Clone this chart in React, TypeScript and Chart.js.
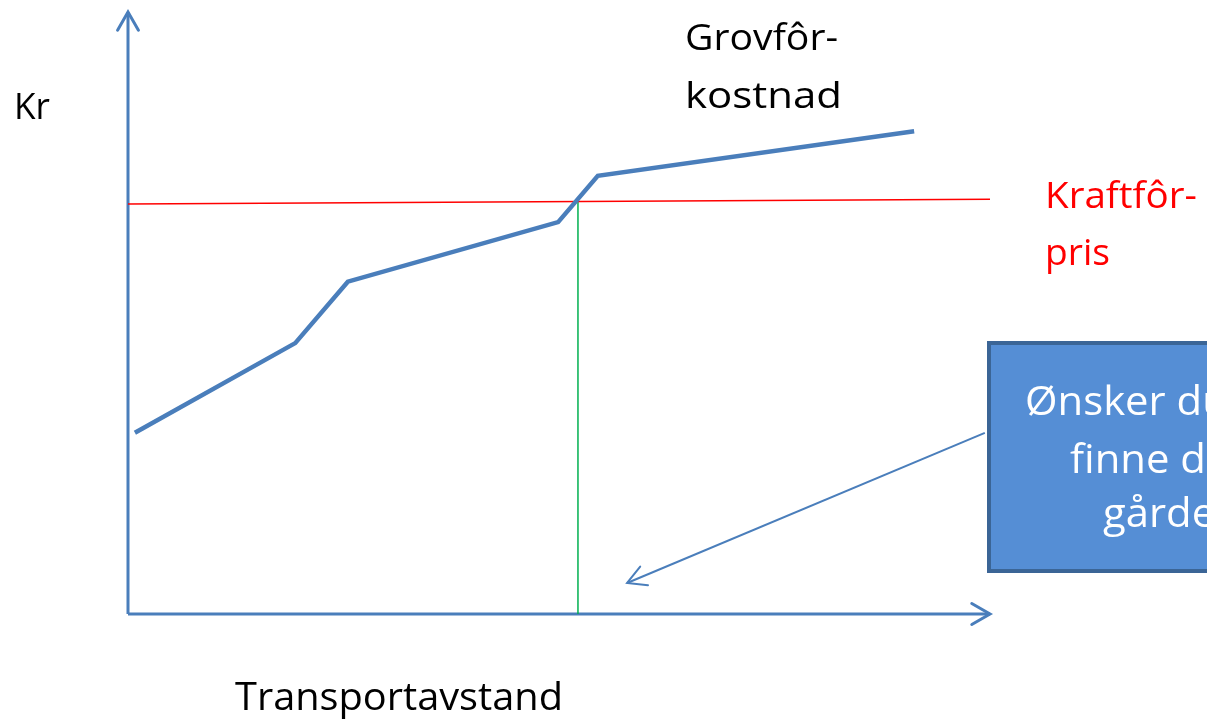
import React, { useEffect, useRef } from "react";
import { Chart, registerables } from "chart.js";
Chart.register(...registerables);

// Data (abstract units: distance 0..100, kroner 0..100)
const distance = [0.8, 19.4, 25.5, 49.9, 54.5, 91.2];
const grovforCost = [30.1, 45.0, 55.2, 65.1, 72.8, 80.2];
const kraftforX = [0, 100];
const kraftforPrice = [68.1, 68.9];
const breakEvenX = [52.2, 52.2];
const breakEvenY = [0, 68.6];
const calloutX = [99.4, 57.9];
const calloutY = [30.1, 5.15];
const axisMaxX = 100;
const axisMaxY = 100;

const yLabel = "Kr";
const xLabel = "Transportavstand";
const grovLabel = ["Grovfôr-", "kostnad"];
const kraftLabel = ["Kraftfôr-", "pris"];
const boxLabel = ["Ønsker du å", "finne den", "gården?"];

const BLUE = "#4a7ebb";
const FONT = '"Open Sans", "Noto Sans", sans-serif';

function fitText(ctx: CanvasRenderingContext2D, text: string, x: number, baseline: number, size: number, color: string, width?: number, sx?: number) {
  ctx.save();
  ctx.font = `${size}px ${FONT}`;
  ctx.fillStyle = color;
  ctx.textBaseline = "alphabetic";
  ctx.textAlign = "left";
  const w = ctx.measureText(text).width;
  const s = width ? width / w : sx || 1;
  ctx.translate(x, baseline);
  ctx.scale(s, 1);
  ctx.fillText(text, 0, 0);
  ctx.restore();
  return s;
}

function arrowHead(ctx: CanvasRenderingContext2D, tx: number, ty: number, fx: number, fy: number, len: number, spread: number) {
  const a = Math.atan2(ty - fy, tx - fx);
  ctx.beginPath();
  ctx.moveTo(tx - len * Math.cos(a - spread), ty - len * Math.sin(a - spread));
  ctx.lineTo(tx, ty);
  ctx.lineTo(tx - len * Math.cos(a + spread), ty - len * Math.sin(a + spread));
  ctx.stroke();
}

const decorPlugin = {
  id: "decor",
  beforeDatasetsDraw(chart: any) {
    const ctx: CanvasRenderingContext2D = chart.ctx;
    const xs = chart.scales.x;
    const ys = chart.scales.y;
    const x0 = xs.getPixelForValue(0);
    const y0 = ys.getPixelForValue(0);
    const xEnd = xs.getPixelForValue(axisMaxX);
    const yEnd = ys.getPixelForValue(axisMaxY);
    ctx.save();
    ctx.strokeStyle = BLUE;
    ctx.lineWidth = 3;
    ctx.lineCap = "butt";
    ctx.beginPath();
    ctx.moveTo(x0, y0);
    ctx.lineTo(x0, yEnd);
    ctx.moveTo(x0, y0);
    ctx.lineTo(xEnd, y0);
    ctx.stroke();
    ctx.lineCap = "round";
    arrowHead(ctx, x0, yEnd, x0, y0, 21, 0.52);
    arrowHead(ctx, xEnd, y0, x0, y0, 21, 0.52);
    ctx.restore();
  },
  afterDraw(chart: any) {
    const ctx: CanvasRenderingContext2D = chart.ctx;
    const xs = chart.scales.x;
    const ys = chart.scales.y;
    // callout arrow
    const ax1 = xs.getPixelForValue(calloutX[0]);
    const ay1 = ys.getPixelForValue(calloutY[0]);
    const ax2 = xs.getPixelForValue(calloutX[1]);
    const ay2 = ys.getPixelForValue(calloutY[1]);
    ctx.save();
    ctx.strokeStyle = BLUE;
    ctx.lineWidth = 2;
    ctx.beginPath();
    ctx.moveTo(ax1, ay1);
    ctx.lineTo(ax2, ay2);
    ctx.stroke();
    ctx.lineCap = "round";
    arrowHead(ctx, ax2, ay2, ax1, ay1, 21, 0.5);
    ctx.restore();

    // callout box
    ctx.save();
    ctx.fillStyle = "#558ed5";
    ctx.fillRect(989, 343, 260, 228);
    ctx.strokeStyle = "#3b6596";
    ctx.lineWidth = 4;
    ctx.strokeRect(989, 343, 260, 228);
    ctx.restore();

    const s = fitText(ctx, xLabel, 235, 710, 38, "#000000", 328);
    fitText(ctx, yLabel, 14, 119, 36, "#000000", 36);
    fitText(ctx, grovLabel[0], 685, 50, 37, "#000000", 153);
    fitText(ctx, grovLabel[1], 685, 108, 37, "#000000", 157);
    fitText(ctx, kraftLabel[0], 1045, 208, 37, "#ff0000", 152);
    fitText(ctx, kraftLabel[1], 1045, 265, 37, "#ff0000", 65);
    fitText(ctx, boxLabel[0], 1025, 415, 40, "#ffffff", undefined, s);
    fitText(ctx, boxLabel[1], 1070, 473, 40, "#ffffff", undefined, s);
    fitText(ctx, boxLabel[2], 1103, 527, 40, "#ffffff", undefined, s);
  },
};

export default function App() {
  const ref = useRef<HTMLCanvasElement | null>(null);
  useEffect(() => {
    if (!ref.current) return;
    const chart = new Chart(ref.current, {
      type: "line",
      data: {
        datasets: [
          {
            label: "Grovfôrkostnad",
            data: distance.map((d, i) => ({ x: d, y: grovforCost[i] })),
            borderColor: BLUE,
            borderWidth: 4.5,
            pointRadius: 0,
            tension: 0,
            clip: false as any,
          },
          {
            label: "Kraftfôrpris",
            data: kraftforX.map((d, i) => ({ x: d, y: kraftforPrice[i] })),
            borderColor: "#ff0000",
            borderWidth: 1.5,
            pointRadius: 0,
            clip: false as any,
          },
          {
            label: "Likevekt",
            data: breakEvenX.map((d, i) => ({ x: d, y: breakEvenY[i] })),
            borderColor: "#00b050",
            borderWidth: 1.5,
            pointRadius: 0,
            clip: false as any,
          },
        ],
      },
      options: {
        responsive: false,
        animation: false,
        devicePixelRatio: 1,
        layout: { padding: { left: 128, right: 217, top: 12, bottom: 109 } },
        plugins: { legend: { display: false }, tooltip: { enabled: false } },
        scales: {
          x: { type: "linear", min: 0, max: axisMaxX, display: false },
          y: { type: "linear", min: 0, max: axisMaxY, display: false },
        },
      },
      plugins: [decorPlugin],
    });
    return () => chart.destroy();
  }, []);
  return (
    <div style={{ position: "absolute", left: 0, top: 0, width: 1207, height: 723, background: "#fff", overflow: "hidden" }}>
      <canvas ref={ref} width={1207} height={723} style={{ display: "block" }} />
    </div>
  );
}
